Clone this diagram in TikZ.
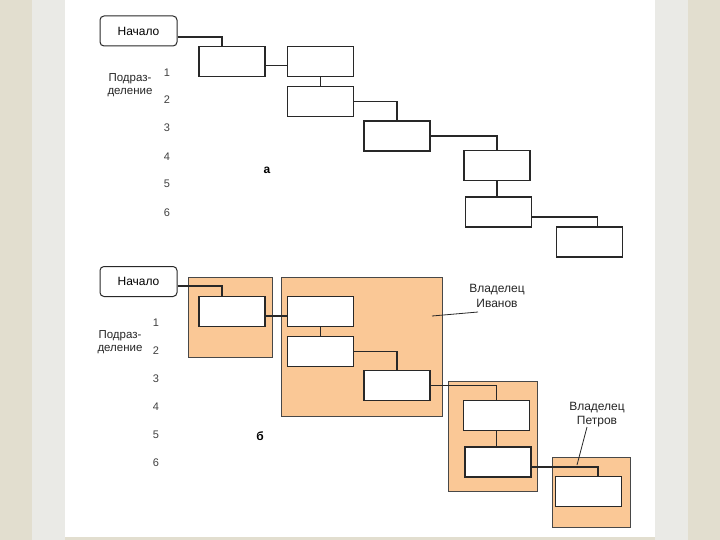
\documentclass[tikz,border=0pt]{standalone}
\usepackage{fontspec}
\setmainfont{Liberation Sans}
\usetikzlibrary{calc}
\definecolor{beige}{RGB}{226,222,207}
\definecolor{paleside}{RGB}{234,234,230}
\definecolor{owner}{RGB}{250,200,150}
\definecolor{ink}{RGB}{40,40,40}
\begin{document}
\begin{tikzpicture}[x=1pt,y=-1pt,
  cell/.style={draw=ink,fill=white,line width=1.1pt,minimum width=66pt,minimum height=30pt,inner sep=0pt},
  startbox/.style={draw=ink,fill=white,line width=1pt,rounded corners=4pt,minimum width=77pt,minimum height=30pt,inner sep=0pt,font=\fontsize{12}{14}\selectfont},
  ownerbox/.style={draw=ink!85,fill=owner,line width=1pt,inner sep=0pt},
  link/.style={draw=ink,line width=1.1pt},
  lead/.style={draw=ink,line width=0.8pt},
  lbl/.style={font=\fontsize{11.5}{13}\selectfont,text=black!85,inner sep=0pt,align=center},
  own/.style={font=\fontsize{12}{14.5}\selectfont,text=black!85,inner sep=0pt,align=center},
  num/.style={font=\fontsize{11}{13}\selectfont,text=black!75,inner sep=0pt},
  tag/.style={font=\bfseries\fontsize{12}{14}\selectfont,inner sep=0pt}]
\useasboundingbox (0,0) rectangle (720,540);
% background
\fill[beige] (0,0) rectangle (720,540);
\fill[paleside] (32,0) rectangle (65,540);
\fill[paleside] (655,0) rectangle (688,540);
\fill[white] (65,0) rectangle (655,537);

% ---------- top diagram (a) ----------
\node[startbox] (s1) at (138.5,31) {Начало};
\node[cell] (t1) at (232,61.5) {};
\node[cell] (t2) at (320.5,61.5) {};
\node[cell] (t3) at (320.5,101.5) {};
\node[cell] (t4) at (397,136) {};
\node[cell] (t5) at (497,165.5) {};
\node[cell] (t6) at (498.5,212) {};
\node[cell] (t7) at (589.5,242) {};

\draw[link] ($(s1.east)+(0,6)$) -| ($(t1.north)+(-10,0)$);
\draw[link] ($(t1.east)+(0,4)$) -- ($(t2.west)+(0,4)$);
\draw[link] (t2.south) -- (t3.north);
\draw[link] (t3.east) -| (t4.north);
\draw[link] (t4.east) -| (t5.north);
\draw[link] (t5.south) -- (t5.south |- t6.north);
\draw[link] ($(t6.east)+(0,5)$) -| ($(t7.north)+(8,0)$);

\node[lbl] (p1) at (130,85.5) {Подраз-\\деление};
\node[num] (n11) at (167,73) {1};
\node[num] (n12) at (167,100) {2};
\node[num] (n13) at (167,128) {3};
\node[num] (n14) at (167,157) {4};
\node[num] (n15) at (167,184) {5};
\node[num] (n16) at (167,213) {6};
\node[tag] (la) at (267,170) {а};

% ---------- bottom diagram (б) ----------
\node[ownerbox,minimum width=84pt,minimum height=80pt] (oA) at (230,317) {};
\node[ownerbox,minimum width=161pt,minimum height=139pt] (oB) at (361.5,346.5) {};
\node[ownerbox,minimum width=89pt,minimum height=110pt] (oC) at (492.5,436) {};
\node[ownerbox,minimum width=78pt,minimum height=70pt] (oD) at (591,492) {};

\node[startbox] (s2) at (138.5,281.5) {Начало};
\node[cell] (b1) at (232,311.5) {};
\node[cell] (b2) at (320.5,311.5) {};
\node[cell] (b3) at (320.5,351.5) {};
\node[cell] (b4) at (397,385.5) {};
\node[cell] (b5) at (496.5,415.5) {};
\node[cell] (b6) at (498,462) {};
\node[cell] (b7) at (588.5,491.5) {};

\draw[link] ($(s2.east)+(0,4.5)$) -| ($(b1.north)+(-10,0)$);
\draw[link] ($(b1.east)+(0,4.5)$) -- ($(b2.west)+(0,4.5)$);
\draw[link] (b2.south) -- (b3.north);
\draw[link] (b3.east) -| (b4.north);
\draw[link] (b4.east) -| (b5.north);
\draw[link] (b5.south) -- (b5.south |- b6.north);
\draw[link] ($(b6.east)+(0,5)$) -| ($(b7.north)+(9.5,0)$);

\node[lbl] (p2) at (120,342) {Подраз-\\деление};
\node[num] (n21) at (156,323) {1};
\node[num] (n22) at (156,351) {2};
\node[num] (n23) at (156,379) {3};
\node[num] (n24) at (156,407) {4};
\node[num] (n25) at (156,435) {5};
\node[num] (n26) at (156,463) {6};
\node[tag] (lb) at (260,436) {б};

\node[own] (iv) at (497,296) {Владелец\\Иванов};
\coordinate (ivA) at (432,316);
\coordinate (ivB) at (478,312);
\draw[lead] (ivA) -- (ivB);

\node[own] (pt) at (597,414.5) {Владелец\\Петров};
\coordinate (ptA) at (587,427);
\coordinate (ptB) at (577,465);
\draw[lead] (ptA) -- (ptB);
\end{tikzpicture}
\end{document}
